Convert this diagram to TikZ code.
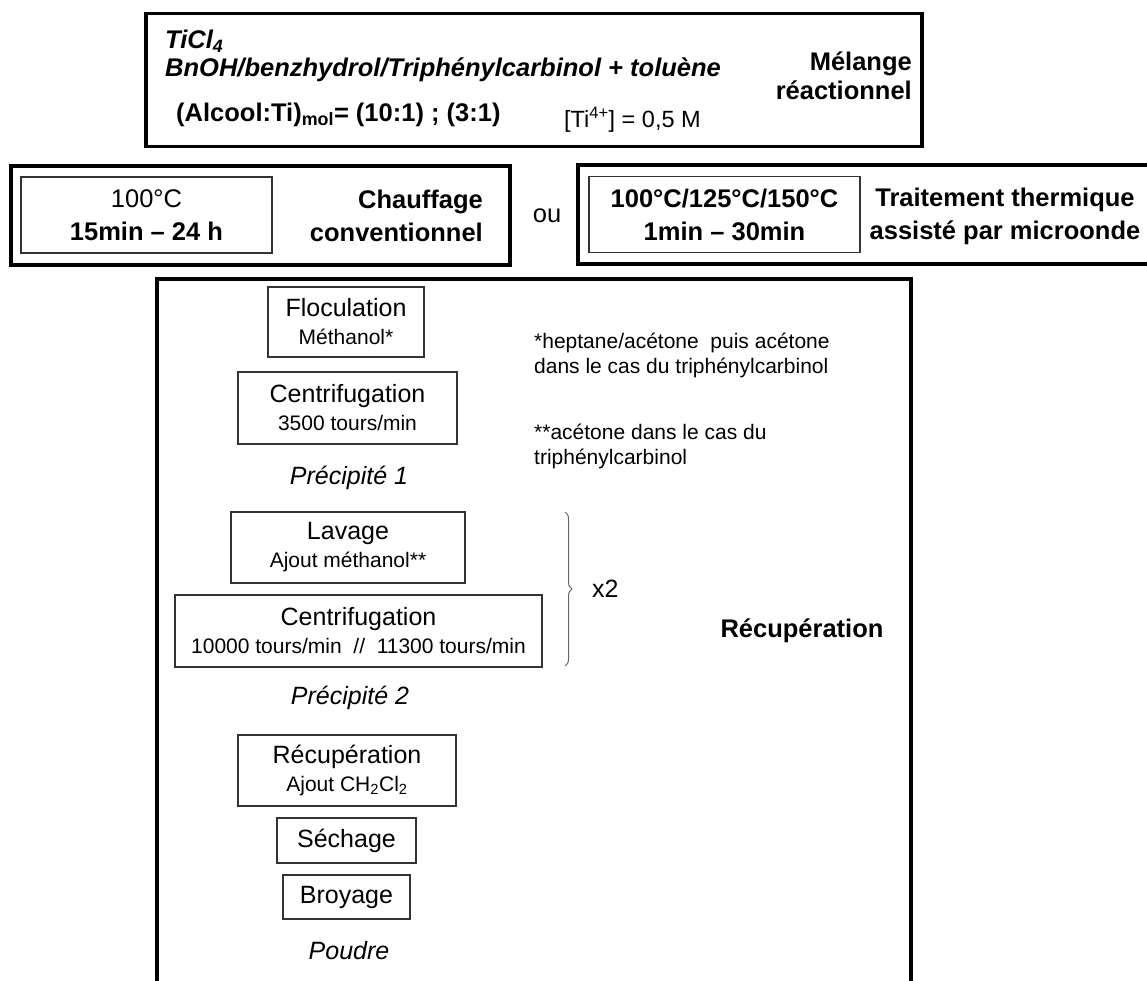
\documentclass[tikz,border=0pt]{standalone}
\usepackage{fontspec}
\setmainfont{Liberation Sans}
\usetikzlibrary{positioning, decorations.pathreplacing}

\newcommand{\hdsz}{\fontsize{25.5}{33}\selectfont}
\newcommand{\stepsz}{\fontsize{25}{28}\selectfont}
\newcommand{\subsz}{\fontsize{21}{25}\selectfont}
\newcommand{\notesz}{\fontsize{21}{25}\selectfont}

\tikzset{
  outerbox/.style={draw=black, line width=3.5pt, inner sep=0pt},
  innerbox/.style={draw=black!80, line width=1.2pt, inner sep=0pt,
    align=center, font=\hdsz},
  stepbox/.style={draw=black!80, line width=1.2pt, inner sep=0pt,
    align=center, font=\stepsz},
  headtext/.style={inner sep=0pt, font=\hdsz\bfseries},
  product/.style={inner sep=0pt, font=\stepsz\itshape},
  note/.style={inner sep=0pt, font=\notesz, align=left},
  repeatbrace/.style={decorate, decoration={brace, amplitude=7pt},
    draw=black!60, line width=1pt},
}

\begin{document}
\begin{tikzpicture}[x=1pt, y=-1pt]
  \clip (0,0) rectangle (1147,981);

  % melange reactionnel
  \node[outerbox, minimum width=776, minimum height=133] (melange) at (534,80) {};
  \node[headtext, font=\hdsz\bfseries\itshape, anchor=west] (ticl) at (165,41)
        {TiCl\textsubscript{4}};
  \node[headtext, font=\hdsz\bfseries\itshape, anchor=west] (alcools) at (165,70)
        {BnOH/benzhydrol/Triphénylcarbinol + toluène};
  \node[headtext, anchor=west] (ratio) at (176,115)
        {(Alcool:Ti)\textsubscript{mol}= (10:1) ; (3:1)};
  \node[inner sep=0pt, font=\fontsize{23.5}{26}\selectfont, anchor=west] (conc) at (564,120)
        {[Ti\textsuperscript{4+}] = 0,5 M};
  \node[headtext, align=right, anchor=east] (melangelbl) at (912,76)
        {Mélange\\[-4pt]réactionnel};

  % traitement thermique
  \node[outerbox, minimum width=499, minimum height=99] (chauffage) at (260.5,215.5) {};
  \node[innerbox, minimum width=251, minimum height=76] (conditions) at (146.5,215)
        {100°C\\\textbf{15min – 24 h}};
  \node[headtext, align=right, anchor=east] (chauffagelbl) at (483,216)
        {Chauffage\\conventionnel};
  \node[inner sep=0pt, font=\hdsz] (ou) at (547,216) {ou};
  \node[outerbox, minimum width=582, minimum height=99] (microonde) at (869,214.5) {};
  \node[innerbox, font=\hdsz\bfseries, minimum width=271, minimum height=76]
        (conditionsmo) at (724.5,214.5) {100°C/125°C/150°C\\1min – 30min};
  \node[headtext, align=center] (microondelbl) at (1005,216)
        {Traitement thermique\\assisté par microonde};

  % recuperation
  \node[outerbox, minimum width=754, minimum height=724] (recuperation) at (534,641) {};
  \node[stepbox, minimum width=156, minimum height=70] (floculation) at (346,322)
        {Floculation\\{\subsz Méthanol*}};
  \node[stepbox, minimum width=219, minimum height=72] (centrif1) at (347.5,408)
        {Centrifugation\\{\subsz 3500 tours/min}};
  \node[product] (precip1) at (349,478) {Précipité 1};
  \node[stepbox, minimum width=234, minimum height=71] (lavage) at (348,547.5)
        {Lavage\\{\subsz Ajout méthanol**}};
  \node[stepbox, minimum width=367, minimum height=72] (centrif2) at (358.5,631)
        {Centrifugation\\{\subsz 10000 tours/min~~//~~11300 tours/min}};
  \node[product] (precip2) at (350,698) {Précipité 2};
  \node[stepbox, minimum width=218, minimum height=71] (recupstep) at (347,770.5)
        {Récupération\\{\subsz Ajout CH\textsubscript{2}Cl\textsubscript{2}}};
  \node[stepbox, minimum width=139, minimum height=45] (sechage) at (346.5,840.5) {Séchage};
  \node[stepbox, minimum width=127, minimum height=44] (broyage) at (346.5,897) {Broyage};
  \node[product] (poudre) at (349,951) {Poudre};

  \node[note, anchor=west] (note1) at (534,355)
        {*heptane/acétone~ puis acétone\\dans le cas du triphénylcarbinol};
  \node[note, anchor=west] (note2) at (534,446)
        {**acétone dans le cas du\\triphénylcarbinol};

  \coordinate (brtop) at (565,512);
  \coordinate (brbot) at (565,666);
  \draw[repeatbrace] (brtop) -- (brbot);
  \node[inner sep=0pt, font=\stepsz, anchor=west] (repeat) at (592,589) {x2};
  \node[headtext] (recuplbl) at (802,631) {Récupération};
\end{tikzpicture}
\end{document}
